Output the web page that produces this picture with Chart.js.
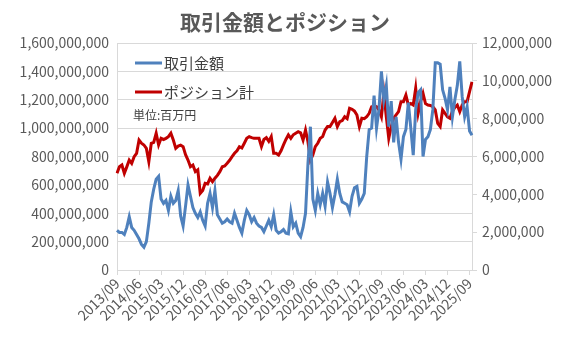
<!DOCTYPE html>
<html lang="ja">
<head>
<meta charset="utf-8">
<script src="https://cdn.jsdelivr.net/npm/chart.js@4.4.0/dist/chart.umd.min.js"></script>
<style>
html, body { margin: 0; padding: 0; background: #fff; }
#wrap { width: 567px; height: 339px; }
</style>
</head>
<body>
<div id="wrap"><canvas id="chart" width="567" height="339"></canvas></div>
<script>
const chartTitle = '取引金額とポジション';
const unitNote = '単位:百万円';

// months from 2013/09, one per point
const startYear = 2013;
const startMonth = 9;
const pointCount = 146;
const labels = [];
for (let i = 0; i < pointCount; i++) {
    const m = startMonth - 1 + i;
    const y = startYear + Math.floor(m / 12);
    labels.push(y + '/' + String(m % 12 + 1).padStart(2, '0'));
}

// 取引金額 (million yen, left axis)
const tradeAmount = [
    280, 265, 265, 250, 300, 375, 300, 280, 250, 220,
    180, 160, 200, 330, 480, 570, 640, 660, 500, 470,
    490, 420, 520, 470, 490, 560, 380, 310, 450, 600,
    520, 440, 400, 370, 410, 350, 310, 470, 540, 440,
    560, 390, 360, 330, 340, 360, 340, 330, 400, 350,
    300, 260, 350, 420, 390, 340, 370, 330, 310, 300,
    270, 310, 350, 305, 390, 280, 260, 270, 285, 260,
    255, 410, 305, 330, 260, 235, 300, 400, 750, 1010,
    500, 420, 540, 460, 540, 450, 620, 540, 440, 530,
    640, 540, 480, 470, 460, 410, 520, 580, 590, 470,
    500, 540, 800, 990, 1000, 1230, 1000, 1130, 1400, 1200,
    1300, 1010, 1190, 900, 1080, 900, 780, 940, 990, 1180,
    1000, 810, 1130, 1250, 1270, 800, 920, 940, 990, 1130,
    1460, 1460, 1450, 1270, 1210, 1130, 1290, 1080, 1200, 1300,
    1470, 1220, 1080, 1150, 980, 950
];

// ポジション計 (million, right axis)
const positionTotal = [
    5.11, 5.46, 5.55, 5.11, 5.45, 5.81, 5.64, 5.99, 6.17, 6.87,
    6.70, 6.61, 6.43, 5.73, 6.70, 6.75, 7.23, 6.61, 6.96, 6.90,
    6.96, 7.05, 7.23, 6.87, 6.43, 6.55, 6.60, 6.52, 6.10, 5.81,
    5.46, 5.55, 5.20, 5.30, 4.05, 4.20, 4.58, 4.55, 4.85, 4.67,
    4.85, 5.00, 5.20, 5.46, 5.50, 5.64, 5.80, 5.99, 6.17, 6.30,
    6.52, 6.45, 6.70, 6.96, 7.05, 7.00, 6.96, 6.96, 6.96, 6.52,
    6.90, 7.00, 6.80, 7.05, 6.17, 6.17, 6.08, 6.30, 6.61, 6.90,
    7.14, 6.96, 7.15, 7.23, 7.31, 7.25, 6.87, 7.40, 6.78, 5.81,
    6.08, 6.52, 6.70, 6.96, 7.05, 7.40, 7.58, 7.58, 7.80, 8.02,
    7.58, 7.84, 7.90, 8.10, 8.00, 8.55, 8.50, 8.40, 8.19, 7.58,
    8.02, 8.00, 8.10, 8.28, 8.63, 8.65, 8.63, 8.46, 8.10, 9.34,
    8.10, 6.96, 7.58, 8.02, 8.20, 8.37, 8.90, 8.90, 9.25, 8.72,
    8.80, 8.72, 9.61, 8.28, 8.90, 9.34, 8.80, 8.72, 8.70, 8.63,
    8.46, 7.75, 7.58, 8.46, 8.28, 8.10, 8.02, 8.40, 8.60, 8.72,
    8.37, 8.72, 8.90, 8.90, 9.43, 9.95
];

const font = '"Noto Sans CJK JP", "Noto Sans", sans-serif';
const textColor = '#595959';
const gridColor = '#d9d9d9';
const blue = '#4f81bd';
const red = '#c00000';

// title, legend and unit note drawn over the chart
const overlay = {
    id: 'overlay',
    afterDraw(chart) {
        const ctx = chart.ctx;
        ctx.save();
        ctx.fillStyle = textColor;
        ctx.textBaseline = 'middle';
        ctx.textAlign = 'center';
        ctx.font = 'bold 21px ' + font;
        ctx.fillText(chartTitle, 285, 22);

        ctx.textAlign = 'left';
        ctx.lineWidth = 3;
        const rows = [[blue, chart.data.datasets[0].label, 63], [red, chart.data.datasets[1].label, 92]];
        rows.forEach(r => {
            ctx.strokeStyle = r[0];
            ctx.beginPath();
            ctx.moveTo(135, r[2]);
            ctx.lineTo(162, r[2]);
            ctx.stroke();
            ctx.fillStyle = '#404040';
            ctx.font = '15px ' + font;
            ctx.fillText(r[1], 164, r[2]);
        });
        ctx.font = '12px ' + font;
        ctx.fillText(unitNote, 133, 115);
        ctx.restore();
    }
};

new Chart(document.getElementById('chart'), {
    type: 'line',
    data: {
        labels: labels,
        datasets: [{
            label: '取引金額',
            data: tradeAmount.map(v => v * 1e6),
            borderColor: blue,
            borderWidth: 3,
            pointRadius: 0,
            tension: 0,
            yAxisID: 'y'
        }, {
            label: 'ポジション計',
            data: positionTotal.map(v => v * 1e6),
            borderColor: red,
            borderWidth: 3,
            pointRadius: 0,
            tension: 0,
            yAxisID: 'y2'
        }]
    },
    options: {
        responsive: false,
        animation: false,
        layout: { padding: { top: 43, left: 0, right: 0, bottom: 0 } },
        plugins: {
            legend: { display: false },
            title: { display: false },
            tooltip: { enabled: false }
        },
        scales: {
            x: {
                offset: false,
                grid: { drawOnChartArea: false, color: gridColor, tickLength: 5 },
                border: { color: gridColor },
                ticks: {
                    autoSkip: false,
                    minRotation: 45,
                    maxRotation: 45,
                    padding: 0,
                    color: textColor,
                    font: { family: font, size: 14 },
                    callback: function(value, index) {
                        return index % 9 === 0 ? labels[index] : null;
                    }
                },
                afterFit: s => { s.height = 69; }
            },
            y: {
                position: 'left',
                min: 0,
                max: 1600000000,
                grid: { color: gridColor, drawTicks: false },
                border: { color: gridColor },
                ticks: {
                    stepSize: 200000000,
                    padding: 8,
                    color: textColor,
                    font: { family: font, size: 14 },
                    callback: v => v.toLocaleString('en-US')
                },
                afterFit: s => { s.width = 117; }
            },
            y2: {
                position: 'right',
                min: 0,
                max: 12000000,
                grid: { drawOnChartArea: false, color: gridColor, tickLength: 5 },
                border: { color: gridColor },
                ticks: {
                    stepSize: 2000000,
                    padding: 5,
                    color: textColor,
                    font: { family: font, size: 14 },
                    callback: v => v.toLocaleString('en-US')
                },
                afterFit: s => { s.width = 95; }
            }
        }
    },
    plugins: [overlay]
});
</script>
</body>
</html>
